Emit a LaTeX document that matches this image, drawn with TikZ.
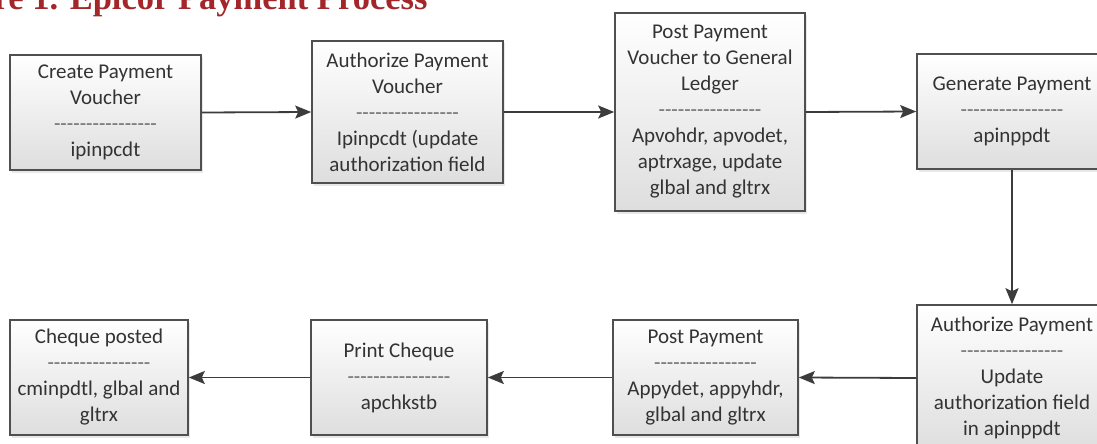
\documentclass[tikz,border=0pt]{standalone}
\usepackage{fontspec}
\setmainfont{Carlito}[Ligatures=TeXOff]
\newfontfamily\titlefont{Liberation Serif}
\usetikzlibrary{arrows.meta,shadows}
\definecolor{boxline}{HTML}{4F4F4F}
\definecolor{txt}{HTML}{333333}
\definecolor{dashc}{HTML}{6A6A6A}
\definecolor{arrc}{HTML}{3C3C3C}
\definecolor{titlered}{HTML}{A3262A}
\newcommand\dl{{\color{dashc}----------------}}
\tikzset{
  proc/.style={draw=boxline, line width=1.6pt, top color=white, bottom color=black!13,
    drop shadow={shadow xshift=2pt, shadow yshift=-2.5pt, opacity=0.18},
    inner sep=0pt, align=center, text=txt,
    font=\fontsize{21}{26}\selectfont},
  flow/.style={draw=arrc, line width=1.8pt, -{Stealth[length=16pt,width=13pt,inset=3pt]}}
}
\begin{document}
\begin{tikzpicture}[x=1pt,y=-1pt]
\useasboundingbox (0,0) rectangle (1097,444);
\clip (0,0) rectangle (1097,444);
\node[anchor=base east, text=titlered, font=\titlefont\bfseries\fontsize{34.5}{40}\selectfont] (title) at (431,10) {Figure 1. Epicor Payment Process};
\node[proc, minimum width=191pt, minimum height=115pt] (b1) at (105.5,112.5) {Create Payment\\Voucher\\\dl\\ipinpcdt};
\node[proc, minimum width=191pt, minimum height=142pt] (b2) at (407.5,112) {Authorize Payment\\Voucher\\\dl\\Ipinpcdt (update\\authorization field};
\node[proc, minimum width=190pt, minimum height=198pt] (b3) at (710,112) {Post Payment\\Voucher to General\\Ledger\\\dl\\Apvohdr, apvodet,\\aptrxage, update\\glbal and gltrx};
\node[proc, minimum width=190pt, minimum height=115pt] (b4) at (1012,111.5) {Generate Payment\\\dl\\apinppdt};
\node[proc, minimum width=190pt, minimum height=146pt] (b5) at (1012,378) {Authorize Payment\\\dl\\Update\\authorization field\\in apinppdt};
\node[proc, minimum width=185pt, minimum height=115pt] (b6) at (705.5,377.5) {Post Payment\\\dl\\Appydet, appyhdr,\\glbal and gltrx};
\node[proc, minimum width=176pt, minimum height=115pt] (b7) at (399,377.5) {Print Cheque\\\dl\\apchkstb};
\node[proc, minimum width=178pt, minimum height=115pt] (b8) at (99,377.5) {Cheque posted\\\dl\\cminpdtl, glbal and\\gltrx};
\draw[flow] (b1.east) -- (b2.west);
\draw[flow] (b2.east) -- (b3.west);
\draw[flow] (b3.east) -- (b4.west);
\draw[flow] (b4.south) -- (b5.north);
\draw[flow] (b5.west) -- (b6.east);
\draw[flow] (b6.west) -- (b7.east);
\draw[flow] (b7.west) -- (b8.east);
\end{tikzpicture}
\end{document}
